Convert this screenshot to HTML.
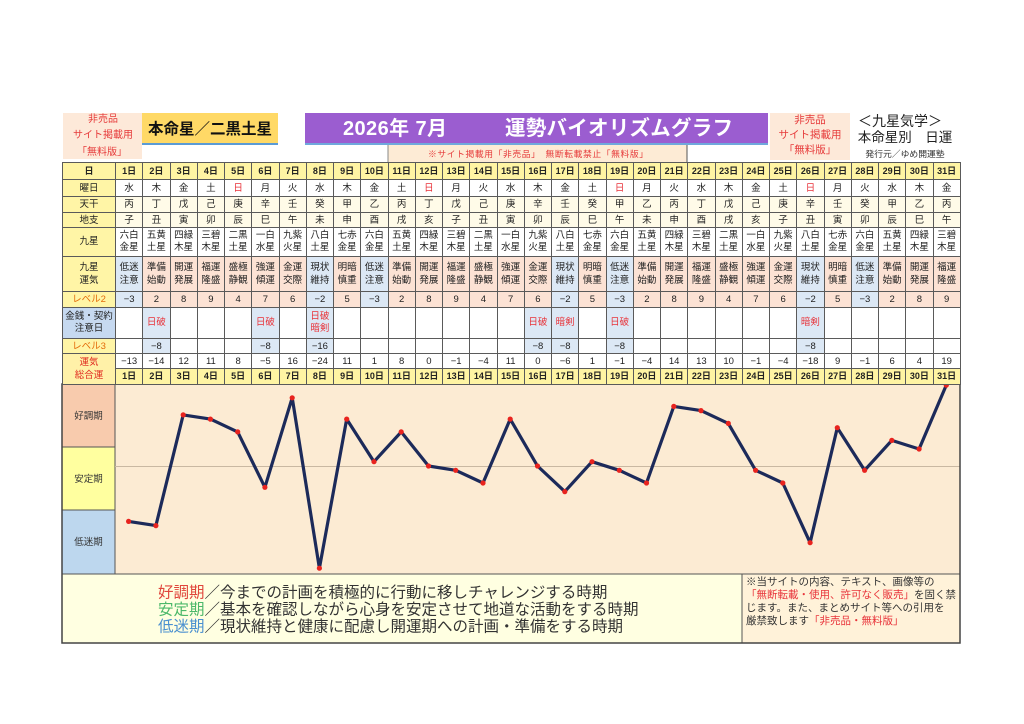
<!DOCTYPE html>
<html lang="ja">
<head>
<meta charset="utf-8">
<style>
  html,body{margin:0;padding:0;background:#fff;}
  body{width:1024px;height:724px;position:relative;overflow:hidden;
       font-family:"Liberation Sans","Noto Sans CJK JP",sans-serif;}
  svg{position:absolute;left:0;top:0;}
  svg text{font-family:"Liberation Sans","Noto Sans CJK JP",sans-serif;}
  table{position:absolute;left:62px;top:162px;width:898px;border-collapse:collapse;table-layout:fixed;
        font-size:9.5px;color:#222;border:1.5px solid #444;}
  td{border:1px solid #5a5a5a;padding:0;text-align:center;vertical-align:middle;line-height:11px;
     overflow:hidden;white-space:nowrap;}
  td.lab{background:#fff5a6;color:#222;}
  tr.day td{background:#fff4a3;font-weight:bold;font-size:9px;}
  tr.cream td{background:#fffbe8;}
  tr.cream td.lab{background:#fff5a6;}
  tr.two td{line-height:12.5px;}
  tr.three td{line-height:13.5px;}
  td.p{background:#fce2d4;}
  td.b{background:#dce8f5;}
  td.r{color:#e8333a;}
  td.or{color:#e46c0a;}
  td.kin{background:#c6d9f0;line-height:12.5px;}
  td.tot{color:#e02b20;background:#fff1a8;line-height:13px;}
</style>
</head>
<body>
<svg width="1024" height="724" viewBox="0 0 1024 724">
  <rect x="63" y="113" width="79" height="46" fill="#fde9d9"/>
  <text x="103" y="122" font-size="10" fill="#e63a3a" text-anchor="middle">非売品</text>
  <text x="103" y="138" font-size="10" fill="#e63a3a" text-anchor="middle">サイト掲載用</text>
  <text x="102" y="155" font-size="10" fill="#e63a3a" text-anchor="middle">「無料版」</text>

  <rect x="142" y="113" width="136" height="30" fill="#ffd966"/>
  <rect x="142" y="143" width="136" height="2" fill="#5b9bd5"/>
  <text x="210" y="134" font-size="15.5" font-weight="bold" fill="#111" text-anchor="middle">本命星／二黒土星</text>

  <rect x="305" y="113" width="463" height="30" fill="#9b5dd0"/>
  <rect x="305" y="143" width="463" height="2" fill="#6fa8dc"/>
  <text x="343" y="135" font-size="20" font-weight="bold" fill="#fff" textLength="104">2026年 7月</text>
  <text x="505" y="135" font-size="20.5" font-weight="bold" fill="#fff" textLength="228">運勢バイオリズムグラフ</text>

  <rect x="388" y="145" width="299" height="17" fill="#fdebd5"/>
  <line x1="388" y1="145" x2="388" y2="162" stroke="#888" stroke-width="1"/>
  <line x1="687" y1="145" x2="687" y2="162" stroke="#555" stroke-width="1"/>
  <text x="428" y="157" font-size="8.8" fill="#e63a3a" textLength="220">※サイト掲載用「非売品」　無断転載禁止「無料版」</text>

  <rect x="770" y="113" width="80" height="47" fill="#fde9d9"/>
  <text x="810" y="123" font-size="10.5" fill="#e63a3a" text-anchor="middle">非売品</text>
  <text x="810" y="138" font-size="10.5" fill="#e63a3a" text-anchor="middle">サイト掲載用</text>
  <text x="810" y="153" font-size="10.5" fill="#e63a3a" text-anchor="middle">「無料版」</text>

  <text x="900" y="126" font-size="14" fill="#222" text-anchor="middle">＜九星気学＞</text>
  <text x="905" y="142" font-size="13.5" fill="#222" text-anchor="middle">本命星別　日運</text>
  <text x="905" y="157" font-size="8.8" fill="#333" text-anchor="middle">発行元／ゆめ開運塾</text>

  <rect x="62" y="384" width="53" height="63" fill="#f8cbad"/>
  <rect x="62" y="447" width="53" height="63" fill="#ffff9f"/>
  <rect x="62" y="510" width="53" height="64" fill="#bdd7ee"/>
  <rect x="115" y="384" width="845" height="190" fill="#fcebd3"/>
  <line x1="62" y1="447" x2="115" y2="447" stroke="#555" stroke-width="1"/>
  <line x1="62" y1="510" x2="115" y2="510" stroke="#555" stroke-width="1"/>
  <line x1="115" y1="384" x2="115" y2="574" stroke="#555" stroke-width="1"/>
  <line x1="115" y1="466.5" x2="960" y2="466.5" stroke="#c9b8a2" stroke-width="1"/>
  <text x="88.5" y="419" font-size="9.5" fill="#333" text-anchor="middle">好調期</text>
  <text x="88.5" y="482" font-size="9.5" fill="#333" text-anchor="middle">安定期</text>
  <text x="88.5" y="545" font-size="9.5" fill="#333" text-anchor="middle">低迷期</text>

  <polyline fill="none" stroke="#1c2a5a" stroke-width="3.2" stroke-linejoin="round"
    points="128.6,521.4 155.9,525.6 183.2,414.9 210.4,419.1 237.7,431.9 264.9,487.3 292.2,397.8 319.4,568.2 346.7,419.1 374.0,461.7 401.2,431.9 428.5,466 455.7,470.3 483.0,483.0 510.2,419.1 537.5,466 564.8,491.6 592.0,461.7 619.3,470.3 646.5,483.0 673.8,406.4 701.0,410.6 728.3,423.4 755.6,470.3 782.8,483.0 810.1,542.7 837.3,427.7 864.6,470.3 891.8,440.4 919.1,449.0 946.3,385.1"/>
  <g fill="#e8231e">
    <circle cx="128.6" cy="521.4" r="2.6"/><circle cx="155.9" cy="525.6" r="2.6"/>
    <circle cx="183.2" cy="414.9" r="2.6"/><circle cx="210.4" cy="419.1" r="2.6"/>
    <circle cx="237.7" cy="431.9" r="2.6"/><circle cx="264.9" cy="487.3" r="2.6"/>
    <circle cx="292.2" cy="397.8" r="2.6"/><circle cx="319.4" cy="568.2" r="2.6"/>
    <circle cx="346.7" cy="419.1" r="2.6"/><circle cx="374.0" cy="461.7" r="2.6"/>
    <circle cx="401.2" cy="431.9" r="2.6"/><circle cx="428.5" cy="466" r="2.6"/>
    <circle cx="455.7" cy="470.3" r="2.6"/><circle cx="483.0" cy="483.0" r="2.6"/>
    <circle cx="510.2" cy="419.1" r="2.6"/><circle cx="537.5" cy="466" r="2.6"/>
    <circle cx="564.8" cy="491.6" r="2.6"/><circle cx="592.0" cy="461.7" r="2.6"/>
    <circle cx="619.3" cy="470.3" r="2.6"/><circle cx="646.5" cy="483.0" r="2.6"/>
    <circle cx="673.8" cy="406.4" r="2.6"/><circle cx="701.0" cy="410.6" r="2.6"/>
    <circle cx="728.3" cy="423.4" r="2.6"/><circle cx="755.6" cy="470.3" r="2.6"/>
    <circle cx="782.8" cy="483.0" r="2.6"/><circle cx="810.1" cy="542.7" r="2.6"/>
    <circle cx="837.3" cy="427.7" r="2.6"/><circle cx="864.6" cy="470.3" r="2.6"/>
    <circle cx="891.8" cy="440.4" r="2.6"/><circle cx="919.1" cy="449.0" r="2.6"/>
    <circle cx="946.3" cy="385.1" r="2.6"/>
  </g>

  <rect x="62" y="574" width="898" height="69" fill="#ffffe1"/>
  <rect x="742" y="574" width="218" height="69" fill="#fff2d9"/>
  <line x1="742" y1="574" x2="742" y2="643" stroke="#555" stroke-width="1"/>
  <line x1="62" y1="574" x2="960" y2="574" stroke="#555" stroke-width="1"/>
  <rect x="62" y="384" width="898" height="259" fill="none" stroke="#444" stroke-width="1.5"/>

  <text x="158" y="597.5" font-size="15.5" fill="#333"><tspan fill="#e0463c">好調期</tspan>／今までの計画を積極的に行動に移しチャレンジする時期</text>
  <text x="158" y="614.5" font-size="15.5" fill="#333"><tspan fill="#4cb86a">安定期</tspan>／基本を確認しながら心身を安定させて地道な活動をする時期</text>
  <text x="158" y="631.5" font-size="15.5" fill="#333"><tspan fill="#4a90d0">低迷期</tspan>／現状維持と健康に配慮し開運期への計画・準備をする時期</text>

  <text x="746" y="585" font-size="10.5" fill="#333">※当サイトの内容、テキスト、画像等の</text>
  <text x="746" y="598" font-size="10.5" fill="#333"><tspan fill="#e8333a">「無断転載・使用、許可なく販売」</tspan>を固く禁</text>
  <text x="746" y="611" font-size="10.5" fill="#333">じます。また、まとめサイト等への引用を</text>
  <text x="746" y="624" font-size="10.5" fill="#333">厳禁致します<tspan fill="#e8333a">「非売品・無料版」</tspan></text>
</svg>

<table>
  <colgroup><col style="width:53px"><col span="31" style="width:27.258px"></colgroup>
  <tr class="day" style="height:17px"><td class="lab">日</td>
    <td>1日</td><td>2日</td><td>3日</td><td>4日</td><td>5日</td><td>6日</td><td>7日</td><td>8日</td><td>9日</td><td>10日</td><td>11日</td><td>12日</td><td>13日</td><td>14日</td><td>15日</td><td>16日</td><td>17日</td><td>18日</td><td>19日</td><td>20日</td><td>21日</td><td>22日</td><td>23日</td><td>24日</td><td>25日</td><td>26日</td><td>27日</td><td>28日</td><td>29日</td><td>30日</td><td>31日</td></tr>
  <tr style="height:17px"><td class="lab">曜日</td>
    <td>水</td><td>木</td><td>金</td><td>土</td><td class="r">日</td><td>月</td><td>火</td><td>水</td><td>木</td><td>金</td><td>土</td><td class="r">日</td><td>月</td><td>火</td><td>水</td><td>木</td><td>金</td><td>土</td><td class="r">日</td><td>月</td><td>火</td><td>水</td><td>木</td><td>金</td><td>土</td><td class="r">日</td><td>月</td><td>火</td><td>水</td><td>木</td><td>金</td></tr>
  <tr class="cream" style="height:16px"><td class="lab">天干</td>
    <td>丙</td><td>丁</td><td>戊</td><td>己</td><td>庚</td><td>辛</td><td>壬</td><td>癸</td><td>甲</td><td>乙</td><td>丙</td><td>丁</td><td>戊</td><td>己</td><td>庚</td><td>辛</td><td>壬</td><td>癸</td><td>甲</td><td>乙</td><td>丙</td><td>丁</td><td>戊</td><td>己</td><td>庚</td><td>辛</td><td>壬</td><td>癸</td><td>甲</td><td>乙</td><td>丙</td></tr>
  <tr class="cream" style="height:15px"><td class="lab">地支</td>
    <td>子</td><td>丑</td><td>寅</td><td>卯</td><td>辰</td><td>巳</td><td>午</td><td>未</td><td>申</td><td>酉</td><td>戌</td><td>亥</td><td>子</td><td>丑</td><td>寅</td><td>卯</td><td>辰</td><td>巳</td><td>午</td><td>未</td><td>申</td><td>酉</td><td>戌</td><td>亥</td><td>子</td><td>丑</td><td>寅</td><td>卯</td><td>辰</td><td>巳</td><td>午</td></tr>
  <tr class="two" style="height:29px"><td class="lab">九星</td>
    <td>六白<br>金星</td><td>五黄<br>土星</td><td>四緑<br>木星</td><td>三碧<br>木星</td><td>二黒<br>土星</td><td>一白<br>水星</td><td>九紫<br>火星</td><td>八白<br>土星</td><td>七赤<br>金星</td>
    <td>六白<br>金星</td><td>五黄<br>土星</td><td>四緑<br>木星</td><td>三碧<br>木星</td><td>二黒<br>土星</td><td>一白<br>水星</td><td>九紫<br>火星</td><td>八白<br>土星</td><td>七赤<br>金星</td>
    <td>六白<br>金星</td><td>五黄<br>土星</td><td>四緑<br>木星</td><td>三碧<br>木星</td><td>二黒<br>土星</td><td>一白<br>水星</td><td>九紫<br>火星</td><td>八白<br>土星</td><td>七赤<br>金星</td>
    <td>六白<br>金星</td><td>五黄<br>土星</td><td>四緑<br>木星</td><td>三碧<br>木星</td></tr>
  <tr class="three" style="height:35px"><td class="lab">九星<br>運気</td>
    <td class="b">低迷<br>注意</td><td class="p">準備<br>始動</td><td class="p">開運<br>発展</td><td class="p">福運<br>隆盛</td><td class="p">盛極<br>静観</td><td class="p">強運<br>傾運</td><td class="p">金運<br>交際</td><td class="b">現状<br>維持</td><td class="p">明暗<br>慎重</td>
    <td class="b">低迷<br>注意</td><td class="p">準備<br>始動</td><td class="p">開運<br>発展</td><td class="p">福運<br>隆盛</td><td class="p">盛極<br>静観</td><td class="p">強運<br>傾運</td><td class="p">金運<br>交際</td><td class="b">現状<br>維持</td><td class="p">明暗<br>慎重</td>
    <td class="b">低迷<br>注意</td><td class="p">準備<br>始動</td><td class="p">開運<br>発展</td><td class="p">福運<br>隆盛</td><td class="p">盛極<br>静観</td><td class="p">強運<br>傾運</td><td class="p">金運<br>交際</td><td class="b">現状<br>維持</td><td class="p">明暗<br>慎重</td>
    <td class="b">低迷<br>注意</td><td class="p">準備<br>始動</td><td class="p">開運<br>発展</td><td class="p">福運<br>隆盛</td></tr>
  <tr style="height:16px"><td class="lab or">レベル2</td>
    <td class="b">−3</td><td class="p">2</td><td class="p">8</td><td class="p">9</td><td class="p">4</td><td class="p">7</td><td class="p">6</td><td class="b">−2</td><td class="p">5</td>
    <td class="b">−3</td><td class="p">2</td><td class="p">8</td><td class="p">9</td><td class="p">4</td><td class="p">7</td><td class="p">6</td><td class="b">−2</td><td class="p">5</td>
    <td class="b">−3</td><td class="p">2</td><td class="p">8</td><td class="p">9</td><td class="p">4</td><td class="p">7</td><td class="p">6</td><td class="b">−2</td><td class="p">5</td>
    <td class="b">−3</td><td class="p">2</td><td class="p">8</td><td class="p">9</td></tr>
  <tr class="two" style="height:31px"><td class="kin">金銭・契約<br>注意日</td>
    <td></td><td class="b r">日破</td><td></td><td></td><td></td><td class="b r">日破</td><td></td><td class="b r">日破<br>暗剣</td><td></td><td></td>
    <td></td><td></td><td></td><td></td><td></td><td class="b r">日破</td><td class="b r">暗剣</td><td></td><td class="b r">日破</td><td></td>
    <td></td><td></td><td></td><td></td><td></td><td class="b r">暗剣</td><td></td><td></td><td></td><td></td><td></td></tr>
  <tr style="height:15px"><td class="lab or">レベル3</td>
    <td></td><td class="b">−8</td><td></td><td></td><td></td><td class="b">−8</td><td></td><td class="b">−16</td><td></td><td></td>
    <td></td><td></td><td></td><td></td><td></td><td class="b">−8</td><td class="b">−8</td><td></td><td class="b">−8</td><td></td>
    <td></td><td></td><td></td><td></td><td></td><td class="b">−8</td><td></td><td></td><td></td><td></td><td></td></tr>
  <tr style="height:15px"><td class="tot" rowspan="2">運気<br>総合運</td>
    <td>−13</td><td>−14</td><td>12</td><td>11</td><td>8</td><td>−5</td><td>16</td><td>−24</td><td>11</td><td>1</td>
    <td>8</td><td>0</td><td>−1</td><td>−4</td><td>11</td><td>0</td><td>−6</td><td>1</td><td>−1</td><td>−4</td>
    <td>14</td><td>13</td><td>10</td><td>−1</td><td>−4</td><td>−18</td><td>9</td><td>−1</td><td>6</td><td>4</td><td>19</td></tr>
  <tr class="day" style="height:16px">
    <td>1日</td><td>2日</td><td>3日</td><td>4日</td><td>5日</td><td>6日</td><td>7日</td><td>8日</td><td>9日</td><td>10日</td><td>11日</td><td>12日</td><td>13日</td><td>14日</td><td>15日</td><td>16日</td><td>17日</td><td>18日</td><td>19日</td><td>20日</td><td>21日</td><td>22日</td><td>23日</td><td>24日</td><td>25日</td><td>26日</td><td>27日</td><td>28日</td><td>29日</td><td>30日</td><td>31日</td></tr>
</table>
</body>
</html>
